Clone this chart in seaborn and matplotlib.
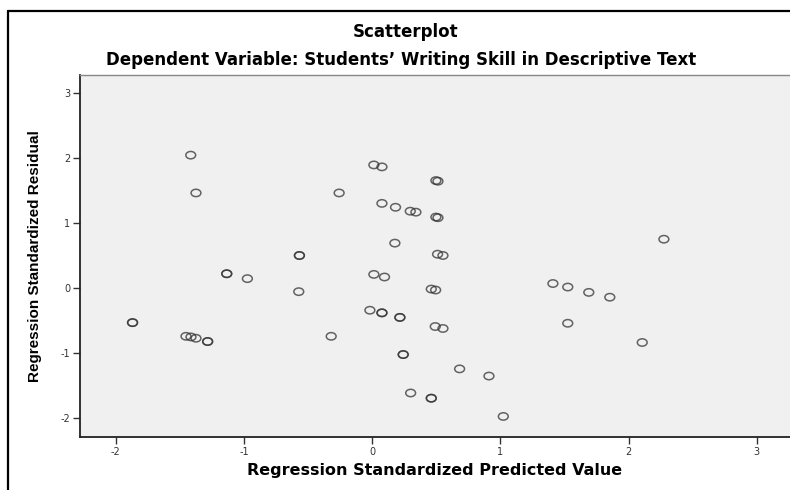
import matplotlib
matplotlib.use("Agg")
import matplotlib.pyplot as plt
from matplotlib.lines import Line2D
from matplotlib.path import Path
from matplotlib.transforms import Affine2D
import seaborn as sns
import pandas as pd

# regression standardized predicted value (x) and residual (y)
pred = [-1.416, -1.375, -0.258, 0.013, 0.076, 0.497, 0.513, 0.076, 0.182, 0.297,
        0.341, 0.497, 0.513, 0.177, 0.510, 0.552, -0.568, -0.568, -1.135, -1.135,
        -0.974, 0.013, 0.096, -0.573, 0.461, 0.495, 1.410, 1.526, 1.690, 1.854,
        2.276, -0.018, 0.076, 0.076, 0.216, 0.216, 0.492, 0.552, -0.320, -1.870,
        -1.870, -1.453, -1.414, -1.375, -1.284, -1.284, 0.242, 0.242, 0.682, 0.911,
        0.300, 0.461, 0.461, 1.023, 1.526, 2.107]
resid = [2.04, 1.46, 1.46, 1.89, 1.86, 1.65, 1.64, 1.30, 1.24, 1.18,
         1.165, 1.09, 1.08, 0.69, 0.52, 0.50, 0.50, 0.50, 0.22, 0.22,
         0.145, 0.21, 0.17, -0.055, -0.015, -0.03, 0.07, 0.016, -0.066, -0.14,
         0.75, -0.34, -0.38, -0.38, -0.45, -0.45, -0.59, -0.62, -0.74, -0.53,
         -0.53, -0.74, -0.75, -0.77, -0.82, -0.82, -1.02, -1.02, -1.24, -1.35,
         -1.61, -1.69, -1.69, -1.97, -0.54, -0.835]

xticks = [-2, -1, 0, 1, 2, 3]
yticks = [-2, -1, 0, 1, 2, 3]

df = pd.DataFrame({"pred": pred, "resid": resid})

sns.set_style("white")
plt.rcParams["font.family"] = ["DejaVu Sans"]
plt.rcParams["text.color"] = "black"
plt.rcParams["axes.labelcolor"] = "black"

fig = plt.figure(figsize=(7.9, 4.9), dpi=100)
ax = fig.add_axes([80 / 790, 1 - 437.3 / 490, 1 - 80 / 790, (437.3 - 75) / 490])
ax.set_facecolor("#f0f0f0")

# slightly wide open circle, like the stretched SPSS marker
ellipse = Path.unit_circle().transformed(Affine2D().scale(1.0, 0.75))
sns.scatterplot(data=df, x="pred", y="resid", ax=ax, marker=ellipse, s=50,
                facecolor="none", edgecolor=(0.2, 0.2, 0.2, 0.75), linewidth=1.1)

ax.set_xlim(-2.28, 3.26)
ax.set_ylim(-2.29, 3.27)
ax.set_xticks(xticks)
ax.set_yticks(yticks)
ax.set_xticklabels([str(t) for t in xticks])
ax.set_yticklabels([str(t) for t in yticks])
ax.tick_params(axis="both", length=5, width=1, color="#333333", labelsize=7,
               labelcolor="#333333", pad=2)
ax.tick_params(axis="x", direction="out", bottom=True)
ax.tick_params(axis="y", direction="out", left=True)

for side in ["left", "bottom"]:
    ax.spines[side].set_color("#222222")
    ax.spines[side].set_linewidth(1.3)
ax.spines["top"].set_color("#888888")
ax.spines["top"].set_linewidth(1.0)
ax.spines["right"].set_visible(False)

ax.set_xlabel("Regression Standardized Predicted Value", fontsize=11.5,
              fontweight="bold", labelpad=4)
ax.set_ylabel("Regression Standardized Residual", fontsize=11, fontweight="bold",
              family=["Liberation Sans", "DejaVu Sans"], labelpad=13)

fig.text(0.513, 1 - 32 / 490, "Scatterplot", ha="center", va="center",
         fontsize=12, fontweight="bold")
fig.text(0.508, 1 - 60 / 490,
         "Dependent Variable: Students\u2019 Writing Skill in Descriptive Text",
         ha="center", va="center", fontsize=12, fontweight="bold")

# outer frame of the output viewer (top and left edges)
fig.add_artist(Line2D([7.5 / 790, 1], [1 - 10.7 / 490, 1 - 10.7 / 490],
                      color="black", linewidth=1.6, transform=fig.transFigure))
fig.add_artist(Line2D([7.5 / 790, 7.5 / 790], [0, 1 - 10.7 / 490],
                      color="black", linewidth=1.6, transform=fig.transFigure))

fig.savefig("out.png", dpi=100)
